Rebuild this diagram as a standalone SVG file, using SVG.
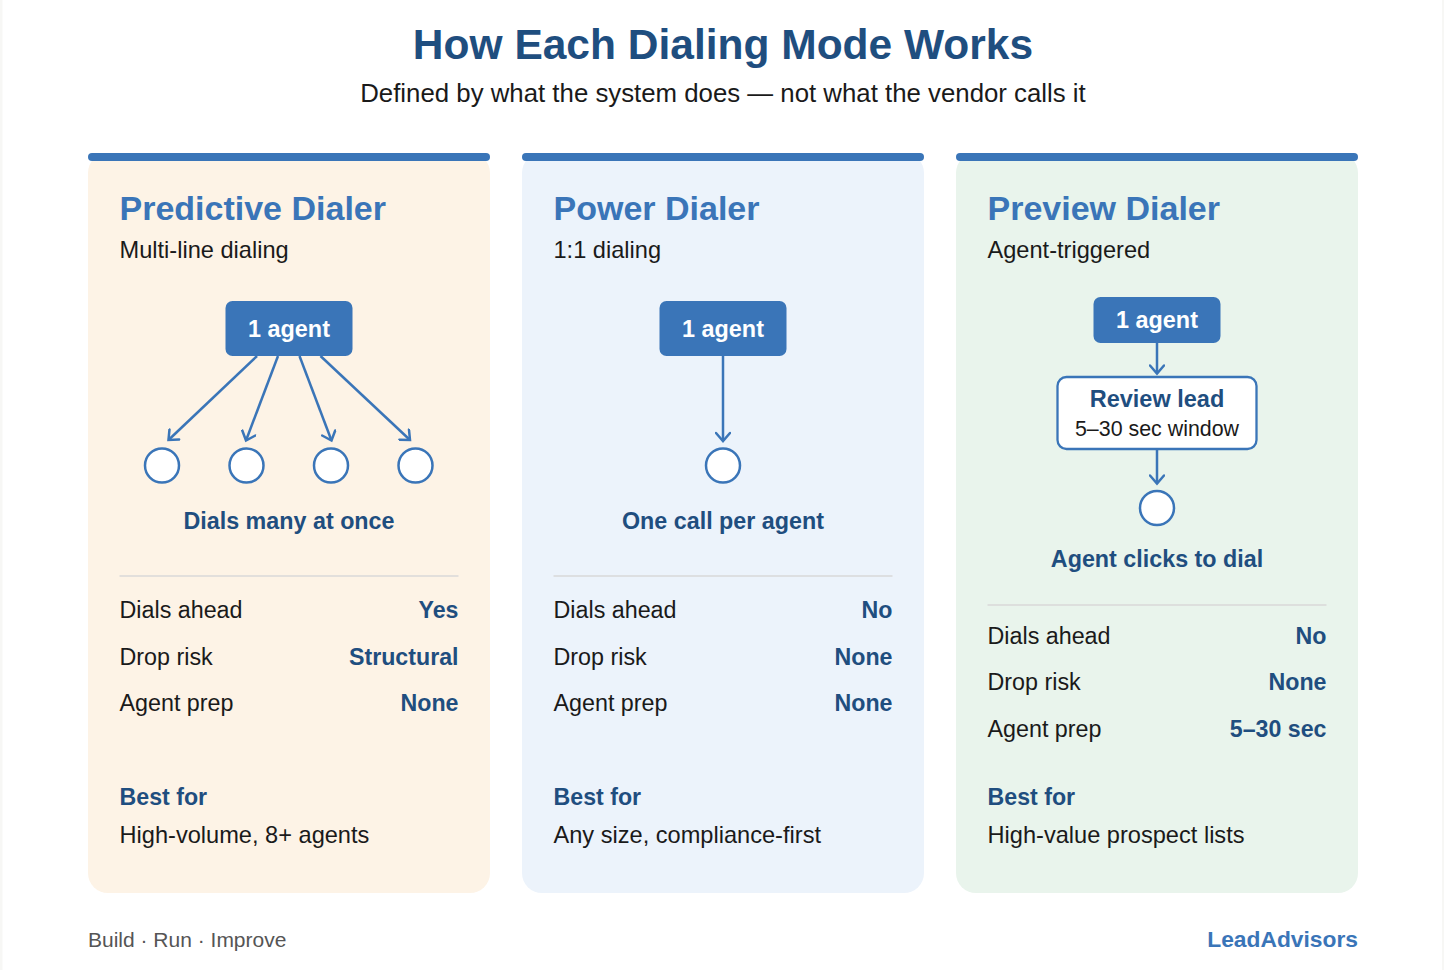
<svg xmlns="http://www.w3.org/2000/svg" width="1444" height="970" viewBox="0 0 1444 970">
<style>
text{font-family:"Liberation Sans",Arial,sans-serif}
.title{font-size:42.5px;font-weight:700;fill:#1f4e7f;text-anchor:middle}
.sub{font-size:25.8px;fill:#1a1a1a;text-anchor:middle}
.name{font-size:34px;font-weight:700;fill:#3a75b8}
.desc,.best{font-size:23.6px;fill:#1a1a1a}
.row{font-size:23.3px;fill:#1a1a1a}
.val{font-size:23.2px;font-weight:700;fill:#1f4e7f;text-anchor:end}
.bf{font-size:23.2px;font-weight:700;fill:#1f4e7f}
.cap{font-size:23.3px;font-weight:700;fill:#1f4e7f;text-anchor:middle}
.ag{font-size:23.4px;font-weight:700;fill:#fff;text-anchor:middle}
.bar{fill:#3a75b8}
.box{fill:#3a75b8}
.c{fill:#fff;stroke:#3a75b8;stroke-width:2.5}
.rev{fill:#fff;stroke:#3a75b8;stroke-width:2.3}
.div{stroke:#d9d9d9;stroke-width:1.5}
.con{stroke:#3a75b8;stroke-width:2.5;fill:none;marker-end:url(#a)}
</style>
<defs><marker id="a" viewBox="0 0 16 16" refX="11.500" refY="8" markerWidth="16" markerHeight="16" markerUnits="userSpaceOnUse" orient="auto"><path d="M3.500 1L11.500 8L3.500 15" fill="none" stroke="#3a75b8" stroke-width="2.500" stroke-linecap="round"/></marker></defs>
<rect width="1444" height="970" fill="#fff"/>
<rect width="2.5" height="970" fill="#f7f7f5"/><rect x="1442" width="2" height="970" fill="#f7f7f5"/>
<g id="header"><text class="title" x="723" y="59">How Each Dialing Mode Works</text><text class="sub" x="723" y="102">Defined by what the system does — not what the vendor calls it</text></g>
<g id="card-predictive">
<rect x="88" y="153" width="402" height="740" rx="20" fill="#fdf3e6"/><rect class="bar" x="88" y="153" width="402" height="8" rx="4"/>
<text class="name" x="119.500" y="220">Predictive Dialer</text><text class="desc" x="119.500" y="258">Multi-line dialing</text>
<g id="p-agent"><rect class="box" x="225.500" y="301" width="127" height="55" rx="7"/><text class="ag" x="289" y="337">1 agent</text></g>
<circle class="c" cx="162" cy="465.500" r="17"/><circle class="c" cx="246.500" cy="465.500" r="17"/><circle class="c" cx="331" cy="465.500" r="17"/><circle class="c" cx="415.500" cy="465.500" r="17"/>
<text class="cap" x="289" y="529">Dials many at once</text>
<line class="div" x1="119.500" y1="576" x2="458.500" y2="576"/>
<text class="row" x="119.500" y="618">Dials ahead</text><text class="val" x="458.500" y="618">Yes</text>
<text class="row" x="119.500" y="665">Drop risk</text><text class="val" x="458.500" y="665">Structural</text>
<text class="row" x="119.500" y="711">Agent prep</text><text class="val" x="458.500" y="711">None</text>
<text class="bf" x="119.500" y="805">Best for</text><text class="best" x="119.500" y="843">High-volume, 8+ agents</text>
</g>
<g id="card-power">
<rect x="522" y="153" width="402" height="740" rx="20" fill="#ecf3fb"/><rect class="bar" x="522" y="153" width="402" height="8" rx="4"/>
<text class="name" x="553.500" y="220">Power Dialer</text><text class="desc" x="553.500" y="258">1:1 dialing</text>
<g id="w-agent"><rect class="box" x="659.500" y="301" width="127" height="55" rx="7"/><text class="ag" x="723" y="337">1 agent</text></g>
<circle class="c" cx="723" cy="465.500" r="17"/>
<text class="cap" x="723" y="529">One call per agent</text>
<line class="div" x1="553.500" y1="576" x2="892.500" y2="576"/>
<text class="row" x="553.500" y="618">Dials ahead</text><text class="val" x="892.500" y="618">No</text>
<text class="row" x="553.500" y="665">Drop risk</text><text class="val" x="892.500" y="665">None</text>
<text class="row" x="553.500" y="711">Agent prep</text><text class="val" x="892.500" y="711">None</text>
<text class="bf" x="553.500" y="805">Best for</text><text class="best" x="553.500" y="843">Any size, compliance-first</text>
</g>
<g id="card-preview">
<rect x="956" y="153" width="402" height="740" rx="20" fill="#e9f4ec"/><rect class="bar" x="956" y="153" width="402" height="8" rx="4"/>
<text class="name" x="987.500" y="220">Preview Dialer</text><text class="desc" x="987.500" y="258">Agent-triggered</text>
<g id="v-agent"><rect class="box" x="1093.500" y="297" width="127" height="46" rx="7"/><text class="ag" x="1157" y="328">1 agent</text></g>
<g id="v-review"><rect class="rev" x="1057.500" y="377" width="199" height="72" rx="9"/><text x="1157" y="407" text-anchor="middle" font-size="23.5" font-weight="700" fill="#1f4e7f">Review lead</text><text x="1157" y="436" text-anchor="middle" font-size="21.4" fill="#1a1a1a">5–30 sec window</text></g>
<circle class="c" cx="1157" cy="508" r="17"/>
<text class="cap" x="1157" y="567">Agent clicks to dial</text>
<line class="div" x1="987.500" y1="605" x2="1326.500" y2="605"/>
<text class="row" x="987.500" y="644">Dials ahead</text><text class="val" x="1326.500" y="644">No</text>
<text class="row" x="987.500" y="690">Drop risk</text><text class="val" x="1326.500" y="690">None</text>
<text class="row" x="987.500" y="737">Agent prep</text><text class="val" x="1326.500" y="737">5–30 sec</text>
<text class="bf" x="987.500" y="805">Best for</text><text class="best" x="987.500" y="843">High-value prospect lists</text>
</g>
<g id="connectors">
<line class="con" x1="257" y1="356" x2="168.500" y2="440"/>
<line class="con" x1="278" y1="356" x2="246" y2="440.500"/>
<line class="con" x1="299.500" y1="356" x2="331.500" y2="440.500"/>
<line class="con" x1="320.500" y1="356" x2="410" y2="440"/>
<line class="con" x1="723" y1="356" x2="723" y2="441"/>
<line class="con" x1="1157" y1="343" x2="1157" y2="373.500"/>
<line class="con" x1="1157" y1="449" x2="1157" y2="483.500"/>
</g>
<g id="footer"><text x="88" y="947" font-size="21" fill="#555">Build · Run · Improve</text><text x="1358" y="947" font-size="22.8" font-weight="700" fill="#3a75b8" text-anchor="end">LeadAdvisors</text></g>
</svg>
